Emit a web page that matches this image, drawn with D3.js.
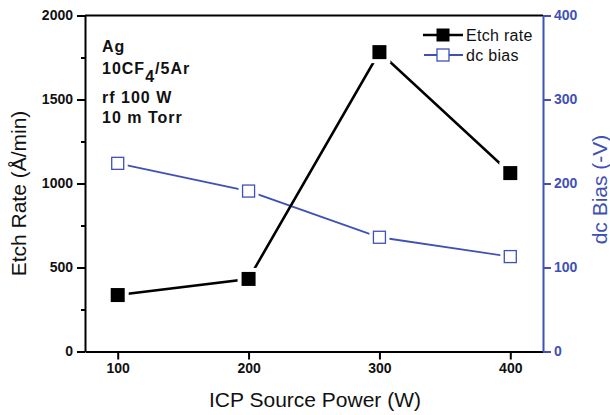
<!DOCTYPE html>
<html>
<head>
<meta charset="utf-8">
<script src="https://cdn.jsdelivr.net/npm/d3@7"></script>
<style>
  body { margin: 0; background: #fff; }
  svg { font-family: "Liberation Sans", Arial, sans-serif; }
</style>
</head>
<body>
<div id="chart"></div>
<script>
// Data
const power = [100, 200, 300, 400];
const etchRate = [336, 432, 1782, 1062];
const dcBias = [224, 191, 136, 113];
const xTicks = [100, 200, 300, 400];
const leftTicks = [0, 500, 1000, 1500, 2000];
const leftMinorTicks = [250, 750, 1250, 1750];
const rightTicks = [0, 100, 200, 300, 400];
const notes = ['Ag', '10CF|4|/5Ar', 'rf 100 W', '10 m Torr'];

const W = 610, H = 415;
const blue = '#3f51b5';

// Plot area edges
const plotL = 85, plotR = 543, plotT = 15.5, plotB = 351.5;

const svg = d3.select('#chart').append('svg')
  .attr('width', W)
  .attr('height', H);

// Scales
const x = d3.scaleLinear().domain([75, 425]).range([plotL, plotR]);
const yL = d3.scaleLinear().domain([0, 2000]).range([plotB, plotT]);
const yR = d3.scaleLinear().domain([0, 400]).range([plotB, plotT]);
const fmt = d3.format('d');

// Top frame line
svg.append('line')
  .attr('x1', plotL).attr('x2', plotR)
  .attr('y1', plotT).attr('y2', plotT)
  .attr('stroke', '#000').attr('stroke-width', 2);

// Bottom axis
const gx = svg.append('g')
  .attr('transform', `translate(0,${plotB})`)
  .call(d3.axisBottom(x).tickValues(xTicks).tickFormat(fmt).tickSize(8).tickSizeOuter(0).tickPadding(4));

// Left axis, major + minor ticks
const gl = svg.append('g')
  .attr('transform', `translate(${plotL},0)`)
  .call(d3.axisLeft(yL).tickValues(leftTicks).tickFormat(fmt).tickSize(8).tickSizeOuter(0).tickPadding(4));
svg.append('g')
  .attr('transform', `translate(${plotL},0)`)
  .call(d3.axisLeft(yL).tickValues(leftMinorTicks).tickSize(4).tickSizeOuter(0).tickFormat(''))
  .call(g => g.select('.domain').remove())
  .selectAll('line').attr('stroke-width', 2);

// Right axis in blue
const gr = svg.append('g')
  .attr('transform', `translate(${plotR},0)`)
  .call(d3.axisRight(yR).tickValues(rightTicks).tickFormat(fmt).tickSize(8).tickSizeOuter(0).tickPadding(3));

[gx, gl].forEach(g => {
  g.select('.domain').attr('stroke', '#000').attr('stroke-width', 2);
  g.selectAll('.tick line').attr('stroke', '#000').attr('stroke-width', 2);
  g.selectAll('.tick text')
    .attr('fill', '#111')
    .style('font-size', '14px')
    .style('font-weight', 'bold')
    .style('font-family', '"Liberation Sans", Arial, sans-serif');
});
gr.select('.domain').attr('stroke', blue).attr('stroke-width', 2);
gr.selectAll('.tick line').attr('stroke', blue).attr('stroke-width', 2);
gr.selectAll('.tick text')
  .attr('fill', blue)
  .style('font-size', '14px')
  .style('font-weight', 'bold')
  .style('font-family', '"Liberation Sans", Arial, sans-serif');

// Axis titles
svg.append('text')
  .attr('x', (plotL + plotR) / 2 + 1)
  .attr('y', 407)
  .attr('text-anchor', 'middle')
  .style('font-size', '21px')
  .attr('fill', '#111')
  .text('ICP Source Power (W)');

svg.append('text')
  .attr('transform', `translate(26,${(plotT + plotB) / 2 + 10}) rotate(-90)`)
  .attr('text-anchor', 'middle')
  .style('font-size', '21px')
  .attr('fill', '#111')
  .text('Etch Rate (Å/min)');

svg.append('text')
  .attr('transform', `translate(607,${(plotT + plotB) / 2 + 6}) rotate(-90)`)
  .attr('text-anchor', 'middle')
  .style('font-size', '21px')
  .attr('fill', blue)
  .text('dc Bias (-V)');

// Series lines
const etchData = power.map((p, i) => [p, etchRate[i]]);
const biasData = power.map((p, i) => [p, dcBias[i]]);

svg.append('path')
  .datum(biasData)
  .attr('fill', 'none')
  .attr('stroke', blue)
  .attr('stroke-width', 1.8)
  .attr('d', d3.line().x(d => x(d[0])).y(d => yR(d[1])));

svg.append('path')
  .datum(etchData)
  .attr('fill', 'none')
  .attr('stroke', '#000')
  .attr('stroke-width', 2.6)
  .attr('d', d3.line().x(d => x(d[0])).y(d => yL(d[1])));

// White halos make the gap between line and marker
const halo = 20;
svg.selectAll('.halo-bias')
  .data(biasData)
  .enter().append('rect')
  .attr('x', d => x(d[0]) - halo / 2)
  .attr('y', d => yR(d[1]) - halo / 2)
  .attr('width', halo).attr('height', halo)
  .attr('fill', '#fff');
svg.selectAll('.halo-etch')
  .data(etchData)
  .enter().append('rect')
  .attr('x', d => x(d[0]) - 11)
  .attr('y', d => yL(d[1]) - 11)
  .attr('width', 22).attr('height', 22)
  .attr('fill', '#fff');

// Markers
svg.selectAll('.m-bias')
  .data(biasData)
  .enter().append('rect')
  .attr('x', d => x(d[0]) - 6)
  .attr('y', d => yR(d[1]) - 6)
  .attr('width', 12).attr('height', 12)
  .attr('fill', '#fff')
  .attr('stroke', blue)
  .attr('stroke-width', 1.3);

svg.selectAll('.m-etch')
  .data(etchData)
  .enter().append('rect')
  .attr('x', d => x(d[0]) - 7)
  .attr('y', d => yL(d[1]) - 7)
  .attr('width', 14).attr('height', 14)
  .attr('fill', '#000');

// Legend
const legend = svg.append('g');
legend.append('line')
  .attr('x1', 423).attr('x2', 463).attr('y1', 35).attr('y2', 35)
  .attr('stroke', '#000').attr('stroke-width', 2.6);
legend.append('rect')
  .attr('x', 436.5).attr('y', 28.5).attr('width', 13).attr('height', 13)
  .attr('fill', '#000');
legend.append('text')
  .attr('x', 466).attr('y', 40.5)
  .style('font-size', '16px')
  .style('letter-spacing', '0.3px')
  .attr('fill', '#111')
  .text('Etch rate');

legend.append('line')
  .attr('x1', 424).attr('x2', 463).attr('y1', 55).attr('y2', 55)
  .attr('stroke', blue).attr('stroke-width', 1.8);
legend.append('rect')
  .attr('x', 437).attr('y', 49).attr('width', 12).attr('height', 12)
  .attr('fill', '#fff')
  .attr('stroke', blue).attr('stroke-width', 1.3);
legend.append('text')
  .attr('x', 466).attr('y', 60.5)
  .style('font-size', '16px')
  .style('letter-spacing', '0.3px')
  .attr('fill', '#111')
  .text('dc bias');

// Condition notes, "|" marks the subscript part
const noteY = [52, 73.5, 102.5, 122.5];
notes.forEach((n, i) => {
  const t = svg.append('text')
    .attr('x', 102).attr('y', noteY[i])
    .style('font-size', '16px')
    .style('font-weight', 'bold')
    .style('letter-spacing', '1px')
    .attr('fill', '#111');
  const parts = n.split('|');
  if (parts.length === 1) {
    t.text(n);
  } else {
    t.append('tspan').text(parts[0]);
    t.append('tspan').attr('dy', 8).text(parts[1]);
    t.append('tspan').attr('dy', -8).text(parts[2]);
  }
});
</script>
</body>
</html>
